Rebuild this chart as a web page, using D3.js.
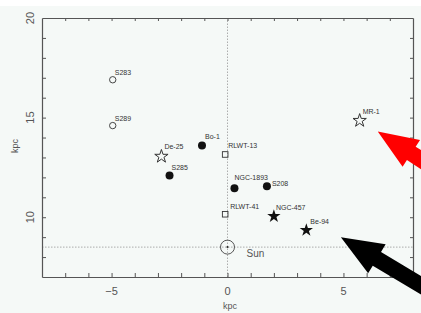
<!DOCTYPE html>
<html>
<head>
<meta charset="utf-8">
<script src="https://cdn.jsdelivr.net/npm/d3@7"></script>
<style>
  body { margin: 0; background: #f5f9f7; }
  svg { display: block; font-family: 'Liberation Sans', Arial, sans-serif; }
</style>
</head>
<body>
<svg id="chart" width="421" height="313"></svg>
<script>
// objects: name, galactic x (kpc), y (kpc), marker type
const names = ['S283', 'S289', 'De-25', 'Bo-1', 'S285', 'RLWT-13', 'NGC-1893', 'S208', 'RLWT-41', 'NGC-457', 'Be-94', 'MR-1']
const xs = [-4.95, -4.95, -2.85, -1.1, -2.5, -0.1, 0.3, 1.7, -0.1, 2.0, 3.4, 5.7]
const ys = [16.9, 14.6, 13.05, 13.6, 12.1, 13.15, 11.45, 11.55, 10.15, 10.05, 9.35, 14.85]
const kinds = ['ocircle', 'ocircle', 'ostar', 'fcircle', 'fcircle', 'osquare', 'fcircle', 'fcircle', 'osquare', 'fstar', 'fstar', 'ostar']
const sun = { x: 0, y: 8.5 }
const xTicks = [-5, 0, 5]
const yTicks = [10, 15, 20]

// label offsets in px (dx, dy to baseline)
const labelOffsets = {
  'S283': [2, -5], 'S289': [2, -5], 'De-25': [3, -7], 'Bo-1': [3, -7], 'S285': [2, -5],
  'RLWT-13': [3, -6], 'NGC-1893': [0, -8], 'S208': [5, 0], 'RLWT-41': [5, -5],
  'NGC-457': [2, -6], 'Be-94': [4, -6], 'MR-1': [3, -7]
}

const svg = d3.select('#chart')
const x = d3.scaleLinear().domain([-8, 8]).range([42, 413])
const y = d3.scaleLinear().domain([7, 20]).range([277, 18])

// white strip at the top of the scan
svg.append('rect').attr('x', 0).attr('y', 0).attr('width', 421).attr('height', 6).attr('fill', '#fff')

// reference lines through the Sun
svg.append('line')
  .attr('x1', x(-8)).attr('x2', x(8)).attr('y1', y(sun.y)).attr('y2', y(sun.y))
  .attr('stroke', '#999').attr('stroke-width', 0.8).attr('stroke-dasharray', '1.5,1.5')
svg.append('line')
  .attr('x1', x(0)).attr('x2', x(0)).attr('y1', y(7)).attr('y2', y(20))
  .attr('stroke', '#999').attr('stroke-width', 0.8).attr('stroke-dasharray', '1.5,1.5')

// axes with inward ticks on all sides
const minorX = d3.range(-7, 8)
const minorY = d3.range(8, 20)
function axisG (axis, tx, ty) {
  const g = svg.append('g').attr('transform', `translate(${tx},${ty})`).call(axis)
  g.selectAll('text').remove()
  g.select('.domain').attr('stroke', '#555').attr('stroke-width', 1.2)
  g.selectAll('.tick line').attr('stroke', '#555').attr('stroke-width', 1)
  return g
}
axisG(d3.axisBottom(x).tickValues(minorX).tickSize(-4).tickSizeOuter(0), 0, y(7))
axisG(d3.axisTop(x).tickValues(minorX).tickSize(-3).tickSizeOuter(0), 0, y(20))
axisG(d3.axisLeft(y).tickValues(minorY).tickSize(-4).tickSizeOuter(0), x(-8), 0)
axisG(d3.axisRight(y).tickValues(minorY).tickSize(-3).tickSizeOuter(0), x(8), 0)

// tick labels
svg.selectAll('.xl').data(xTicks).enter().append('text')
  .attr('x', d => x(d)).attr('y', 295)
  .attr('text-anchor', 'middle').attr('font-size', 11).attr('fill', '#555')
  .text(d => d < 0 ? '\u2212' + Math.abs(d) : d)
svg.selectAll('.yl').data(yTicks).enter().append('text')
  .attr('transform', d => `translate(34,${y(d)}) rotate(-90)`)
  .attr('text-anchor', 'middle').attr('font-size', 11).attr('fill', '#555')
  .text(d => d)
svg.append('text').attr('x', 230).attr('y', 309).attr('text-anchor', 'middle')
  .attr('font-size', 9).attr('fill', '#555').text('kpc')
svg.append('text').attr('transform', 'translate(18,146) rotate(-90)').attr('text-anchor', 'middle')
  .attr('font-size', 9).attr('fill', '#555').text('kpc')

// markers
const pts = names.map((n, i) => ({ name: n, x: xs[i], y: ys[i], kind: kinds[i] }))
const star = d3.symbol().type(d3.symbolStar)
const g = svg.append('g')
pts.forEach(p => {
  const cx = x(p.x); const cy = y(p.y)
  if (p.kind === 'ocircle') {
    g.append('circle').attr('cx', cx).attr('cy', cy).attr('r', 3.2)
      .attr('fill', 'none').attr('stroke', '#333').attr('stroke-width', 0.9)
  } else if (p.kind === 'fcircle') {
    g.append('circle').attr('cx', cx).attr('cy', cy).attr('r', 4).attr('fill', '#111')
  } else if (p.kind === 'osquare') {
    g.append('rect').attr('x', cx - 2.8).attr('y', cy - 2.8).attr('width', 5.6).attr('height', 5.6)
      .attr('fill', 'none').attr('stroke', '#333').attr('stroke-width', 0.9)
  } else if (p.kind === 'ostar') {
    g.append('path').attr('d', star.size(55)()).attr('transform', `translate(${cx},${cy})`)
      .attr('fill', 'none').attr('stroke', '#333').attr('stroke-width', 1)
  } else {
    g.append('path').attr('d', star.size(55)()).attr('transform', `translate(${cx},${cy})`)
      .attr('fill', '#111')
  }
  const off = labelOffsets[p.name]
  g.append('text').attr('x', cx + off[0]).attr('y', cy + off[1])
    .attr('font-size', 7).attr('fill', '#333').text(p.name)
})

// Sun
svg.append('circle').attr('cx', x(sun.x)).attr('cy', y(sun.y)).attr('r', 7)
  .attr('fill', 'none').attr('stroke', '#444').attr('stroke-width', 0.9)
svg.append('circle').attr('cx', x(sun.x)).attr('cy', y(sun.y)).attr('r', 1).attr('fill', '#222')
svg.append('text').attr('x', x(sun.x) + 19).attr('y', y(sun.y) + 10)
  .attr('font-size', 10).attr('fill', '#555').text('Sun')

// annotation arrows (tip in data units, angle of shaft in degrees)
const arrows = [
  { tx: 6.48, ty: 14.3, angle: 33, color: '#ff0000', len: 80, head: 40, hw: 16, sw: 8 },
  { tx: 4.89, ty: 9.0, angle: 31, color: '#000000', len: 110, head: 42, hw: 17, sw: 8 }
]
arrows.forEach(a => {
  const t = [x(a.tx), y(a.ty)]
  const r = a.angle * Math.PI / 180
  const u = [Math.cos(r), Math.sin(r)]
  const n = [-u[1], u[0]]
  const b = [t[0] + u[0] * a.head, t[1] + u[1] * a.head]
  const e = [t[0] + u[0] * a.len, t[1] + u[1] * a.len]
  const poly = [
    t,
    [b[0] + n[0] * a.hw, b[1] + n[1] * a.hw],
    [b[0] + n[0] * a.sw, b[1] + n[1] * a.sw],
    [e[0] + n[0] * a.sw, e[1] + n[1] * a.sw],
    [e[0] - n[0] * a.sw, e[1] - n[1] * a.sw],
    [b[0] - n[0] * a.sw, b[1] - n[1] * a.sw],
    [b[0] - n[0] * a.hw, b[1] - n[1] * a.hw]
  ]
  svg.append('polygon').attr('points', poly.map(p => p.join(',')).join(' ')).attr('fill', a.color)
})
</script>
</body>
</html>
